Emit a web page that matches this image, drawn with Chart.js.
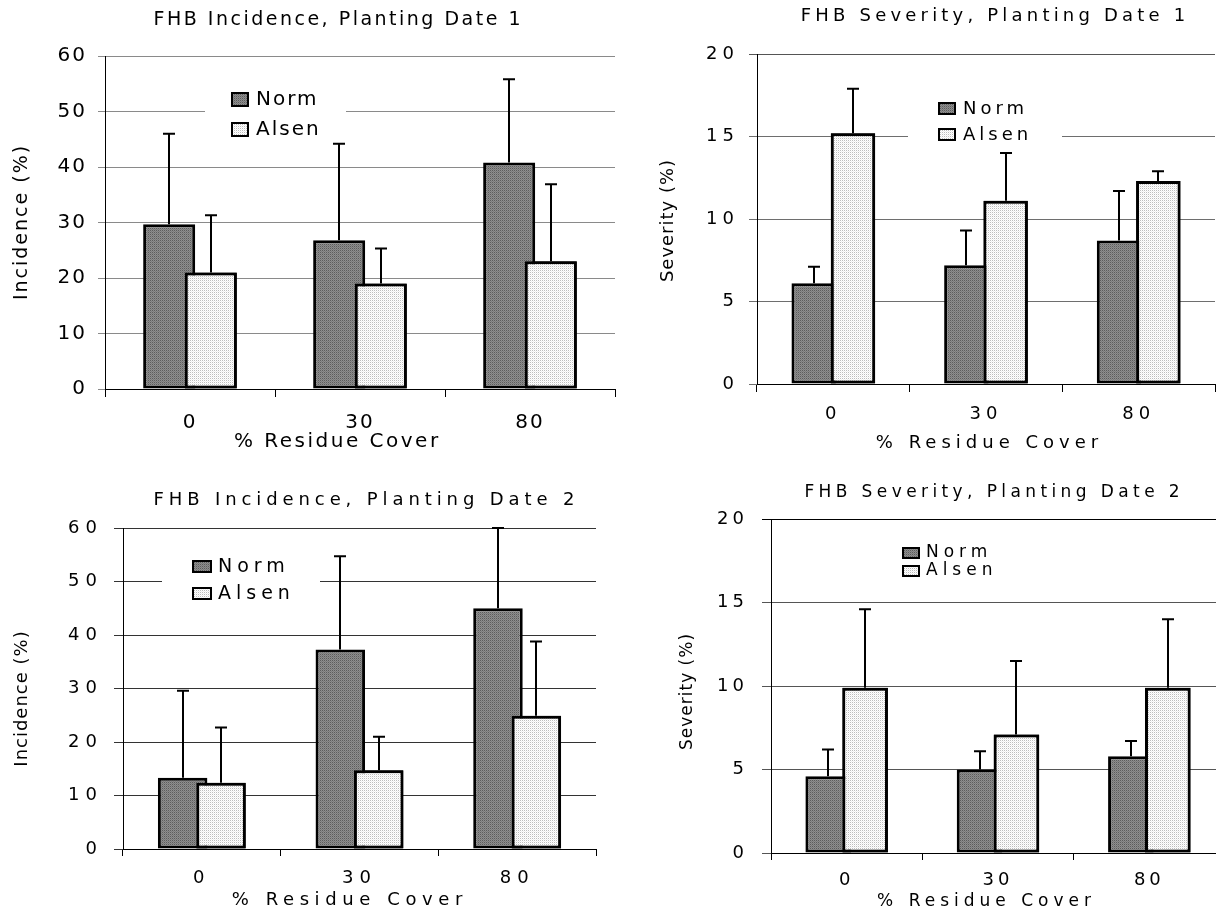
<!DOCTYPE html>
<html>
<head>
<meta charset="utf-8">
<script src="https://cdn.jsdelivr.net/npm/chart.js@4.4.1/dist/chart.umd.min.js"></script>
<style>
  html, body { margin: 0; padding: 0; background: #fff; overflow: hidden; width: 1216px; height: 913px; }
  canvas { position: absolute; }
</style>
</head>
<body>
<canvas id="inc1" width="620" height="460" style="left:0;top:0"></canvas>
<canvas id="sev1" width="596" height="460" style="left:620px;top:0"></canvas>
<canvas id="inc2" width="620" height="453" style="left:0;top:460px"></canvas>
<canvas id="sev2" width="620" height="453" style="left:620px;top:460px"></canvas>
<script>
// categories
const residue = ['0', '30', '80'];
const seriesNames = ['Norm', 'Alsen'];

// planting date 1
const normInc1 = [29.7, 26.8, 40.8];
const alsenInc1 = [21.0, 19.0, 23.0];
const normSev1 = [6.1, 7.2, 8.7];
const alsenSev1 = [15.2, 11.1, 12.3];

// planting date 2
const normInc2 = [13.3, 37.3, 45.0];
const alsenInc2 = [12.4, 14.7, 24.9];
const normSev2 = [4.6, 5.0, 5.8];
const alsenSev2 = [9.9, 7.1, 9.9];

// error bars (upper side only)
const normIncErr = [16.3, 17.4, 15.0];
const alsenIncErr = [10.3, 6.3, 13.9];
const normSev1Err = [1.0, 2.1, 3.0];
const alsenSev1Err = [2.7, 2.9, 0.6];
const normSev2Err = [1.6, 1.1, 0.9];
const alsenSev2Err = [4.7, 4.4, 4.1];

// y axes
const incidenceMax = 60, incidenceStep = 10;
const severityMax = 20, severityStep = 5;

const FONT = '"DejaVu Sans", Verdana, sans-serif';

// 2x2 dither tile: base colour plus one dot
function makePattern(ctx, base, dot, dot2) {
    const tile = document.createElement('canvas');
    tile.width = 2; tile.height = 2;
    const g = tile.getContext('2d');
    g.fillStyle = base; g.fillRect(0, 0, 2, 2);
    g.fillStyle = dot; g.fillRect(0, 0, 1, 1);
    g.fillStyle = dot2; g.fillRect(1, 1, 1, 1);
    return ctx.createPattern(tile, 'repeat');
}

function drawText(ctx, str, x, y, size, spacing, align, rotate) {
    ctx.save();
    ctx.font = size + 'px ' + FONT;
    ctx.letterSpacing = spacing + 'px';
    ctx.fillStyle = '#000';
    ctx.textBaseline = 'middle';
    ctx.textAlign = align;
    ctx.translate(x, y);
    if (rotate) ctx.rotate(-Math.PI / 2);
    ctx.fillText(str, align === 'center' ? spacing / 2 : 0, 0);
    ctx.restore();
}

// titles, legend and error bars
function fhbPlugin(o, fills) {
    return {
        id: 'fhb',
        beforeDraw(chart) {
            chart.ctx.letterSpacing = o.tickSpacing + 'px';
        },
        afterDatasetsDraw(chart) {
            const ctx = chart.ctx;
            const yScale = chart.scales.y;
            // Alsen bar lies over the Norm bar
            chart.getDatasetMeta(1).data.forEach(el => el.draw(ctx));

            const L = o.legend;
            ctx.save();
            ctx.fillStyle = '#fff';
            ctx.fillRect(L.box[0] - o.left, L.box[1] - o.top, L.box[2], L.box[3]);

            ctx.strokeStyle = '#000';
            ctx.lineWidth = 2;
            chart.data.datasets.forEach((ds, di) => {
                chart.getDatasetMeta(di).data.forEach((bar, i) => {
                    const yTop = yScale.getPixelForValue(ds.data[i] + ds.errors[i]);
                    const x = Math.round(bar.x);
                    ctx.beginPath();
                    ctx.moveTo(x, bar.y);
                    ctx.lineTo(x, yTop);
                    ctx.moveTo(x - 6, yTop);
                    ctx.lineTo(x + 6, yTop);
                    ctx.stroke();
                });
            });

            seriesNames.forEach((name, i) => {
                const sy = L.swatchY[i] - o.top;
                const sx = L.swatchX - o.left;
                ctx.fillStyle = fills[i];
                ctx.fillRect(sx, sy, L.swatchW, L.swatchH);
                ctx.lineWidth = 2;
                ctx.strokeStyle = '#000';
                ctx.strokeRect(sx + 1, sy + 1, L.swatchW - 2, L.swatchH - 2);
                drawText(ctx, name, L.textX - o.left, L.textY[i] - o.top, L.size, L.spacing, 'left');
            });
            ctx.restore();
        },
        afterDraw(chart) {
            const ctx = chart.ctx;
            const t = o.title, xt = o.xTitle, yt = o.yTitle;
            drawText(ctx, t.text, t.x - o.left, t.y - o.top, t.size, t.spacing, 'center');
            drawText(ctx, xt.text, xt.x - o.left, xt.y - o.top, xt.size, xt.spacing, 'center');
            drawText(ctx, yt.text, yt.x - o.left, yt.y - o.top, yt.size, yt.spacing, 'center', true);
        }
    };
}

function makeChart(id, o) {
    const canvas = document.getElementById(id);
    const ctx = canvas.getContext('2d');
    const fills = [
        makePattern(ctx, '#8e8e8e', '#5c5c5c', '#7a7a7a'),
        makePattern(ctx, '#ffffff', '#bdbdbd', '#eeeeee')
    ];

    return new Chart(canvas, {
        type: 'bar',
        data: {
            labels: residue,
            datasets: [
                { label: seriesNames[0], data: o.norm, errors: o.normErr, backgroundColor: fills[0] },
                { label: seriesNames[1], data: o.alsen, errors: o.alsenErr, backgroundColor: fills[1] }
            ]
        },
        options: {
            responsive: false,
            animation: false,
            devicePixelRatio: 1,
            layout: { padding: o.pad },
            datasets: {
                bar: {
                    categoryPercentage: o.cat,
                    barPercentage: o.bar,
                    borderColor: '#000',
                    borderWidth: 3,
                    borderSkipped: false
                }
            },
            plugins: { legend: { display: false }, tooltip: { enabled: false }, title: { display: false } },
            scales: {
                x: {
                    offset: true,
                    afterFit: s => { s.height = o.xHeight; },
                    border: { display: true, color: '#000', width: 1 },
                    grid: {
                        offset: true,
                        drawOnChartArea: true,
                        color: c => c.index === residue.length ? o.frameColor : 'rgba(0,0,0,0)',
                        tickColor: '#000',
                        tickLength: o.xTickLen
                    },
                    ticks: {
                        color: '#000',
                        padding: o.xPad,
                        maxRotation: 0,
                        font: { family: FONT, size: o.tickSize }
                    }
                },
                y: {
                    min: 0,
                    max: o.max,
                    afterFit: s => { s.width = o.yWidth; },
                    border: { display: true, color: '#000', width: 1 },
                    grid: {
                        color: c => (c.tick && c.tick.value === o.max) ? o.frameColor : o.gridColor,
                        tickColor: c => (c.tick && c.tick.value === o.max) ? o.frameColor : o.gridColor,
                        tickLength: o.yTickLen
                    },
                    ticks: {
                        stepSize: o.step,
                        color: '#000',
                        padding: o.yPad,
                        font: { family: FONT, size: o.tickSize }
                    }
                }
            }
        },
        plugins: [fhbPlugin(o, fills)]
    });
}

makeChart('inc1', {
    left: 0, top: 0,
    norm: normInc1, alsen: alsenInc1, normErr: normIncErr, alsenErr: alsenIncErr,
    max: incidenceMax, step: incidenceStep,
    pad: { top: 56, left: 0, right: 5, bottom: 0 }, yWidth: 105, xHeight: 71,
    cat: 0.49, bar: 1.25,
    gridColor: '#8a8a8a', frameColor: '#8a8a8a',
    tickSize: 20, tickSpacing: 2, yTickLen: 7, yPad: 11, xTickLen: 8, xPad: 14,
    title: { text: 'FHB Incidence, Planting Date 1', x: 337, y: 20, size: 19, spacing: 2.5 },
    xTitle: { text: '% Residue Cover', x: 336, y: 442, size: 20, spacing: 2.5 },
    yTitle: { text: 'Incidence (%)', x: 22, y: 223, size: 19, spacing: 2 },
    legend: { box: [205, 84, 141, 58], swatchX: 231, swatchW: 18, swatchH: 15, swatchY: [92, 122],
              textX: 256, textY: [100, 130], size: 20, spacing: 2 }
});

makeChart('sev1', {
    left: 620, top: 0,
    norm: normSev1, alsen: alsenSev1, normErr: normSev1Err, alsenErr: alsenSev1Err,
    max: severityMax, step: severityStep,
    pad: { top: 54, left: 0, right: 1, bottom: 0 }, yWidth: 137, xHeight: 76,
    cat: 0.515, bar: 1.13,
    gridColor: '#6e6e6e', frameColor: '#555',
    tickSize: 18, tickSpacing: 5, yTickLen: 8, yPad: 10, xTickLen: 8, xPad: 12,
    title: { text: 'FHB Severity, Planting Date 1', x: 993, y: 16, size: 18, spacing: 4.2 },
    xTitle: { text: '% Residue Cover', x: 987, y: 443, size: 18, spacing: 5 },
    yTitle: { text: 'Severity (%)', x: 668, y: 221, size: 18, spacing: 1 },
    legend: { box: [908, 96, 154, 52], swatchX: 938, swatchW: 18, swatchH: 13, swatchY: [102, 128],
              textX: 963, textY: [109, 135], size: 18, spacing: 4 }
});

makeChart('inc2', {
    left: 0, top: 460,
    norm: normInc2, alsen: alsenInc2, normErr: normIncErr, alsenErr: alsenIncErr,
    max: incidenceMax, step: incidenceStep,
    pad: { top: 68, left: 0, right: 24, bottom: 0 }, yWidth: 123, xHeight: 64,
    cat: 0.487, bar: 1.29,
    gridColor: '#333', frameColor: '#333',
    tickSize: 18, tickSpacing: 6, yTickLen: 9, yPad: 11, xTickLen: 7, xPad: 12,
    title: { text: 'FHB Incidence, Planting Date 2', x: 364, y: 500, size: 18, spacing: 4.9 },
    xTitle: { text: '% Residue Cover', x: 347, y: 900, size: 18, spacing: 5.6 },
    yTitle: { text: 'Incidence (%)', x: 22, y: 699, size: 18, spacing: 1 },
    legend: { box: [162, 550, 158, 60], swatchX: 192, swatchW: 20, swatchH: 13, swatchY: [560, 587],
              textX: 218, textY: [567, 594], size: 19, spacing: 5 }
});

makeChart('sev2', {
    left: 620, top: 460,
    norm: normSev2, alsen: alsenSev2, normErr: normSev2Err, alsenErr: alsenSev2Err,
    max: severityMax, step: severityStep,
    pad: { top: 59, left: 0, right: 15, bottom: 0 }, yWidth: 151, xHeight: 60,
    cat: 0.488, bar: 1.235,
    gridColor: '#555', frameColor: '#000',
    tickSize: 18, tickSpacing: 4, yTickLen: 9, yPad: 14, xTickLen: 7, xPad: 10,
    title: { text: 'FHB Severity, Planting Date 2', x: 992, y: 493, size: 17, spacing: 4.4 },
    xTitle: { text: '% Residue Cover', x: 984, y: 902, size: 17, spacing: 5 },
    yTitle: { text: 'Severity (%)', x: 688, y: 692, size: 17, spacing: 1 },
    legend: { box: [898, 540, 105, 42], swatchX: 902, swatchW: 18, swatchH: 12, swatchY: [547, 565],
              textX: 926, textY: [553, 571], size: 17, spacing: 5 }
});
</script>
</body>
</html>
